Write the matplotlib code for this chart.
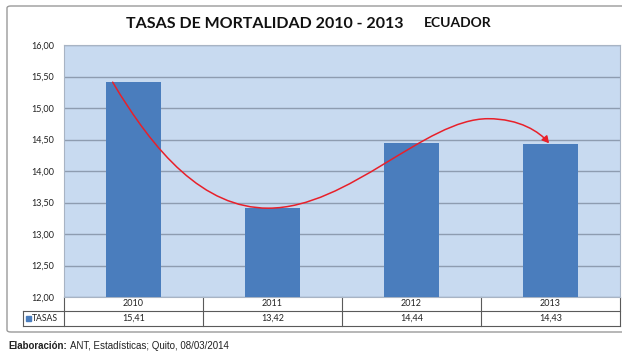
import numpy as np
import matplotlib
matplotlib.use("Agg")
import matplotlib.pyplot as plt
from matplotlib.path import Path
from matplotlib.patches import FancyArrowPatch, FancyBboxPatch, Rectangle
from matplotlib.ticker import FuncFormatter

years = ["2010", "2011", "2012", "2013"]
tasas = [15.41, 13.42, 14.44, 14.43]
series_name = "TASAS"
y_min, y_max, y_step = 12.0, 16.0, 0.5
title = "TASAS DE MORTALIDAD 2010 - 2013"
subtitle = "ECUADOR"
source_bold = "Elaboración:"
source_text = "ANT, Estadísticas; Quito, 08/03/2014"

W, H = 622, 353
BAR = "#4a7dbd"
PLOT_BG = "#c8daf0"
GRID = "#8e9cb0"
EDGE = "#5a5a5a"

def comma(v, _=None):
  return ("%.2f" % v).replace(".", ",")

fig = plt.figure(figsize=(W / 100, H / 100), dpi=100)
fig.patch.set_facecolor("white")

# outer chart frame
frame = FancyBboxPatch((7 / W, 21 / H), 640 / W, 326 / H,
                       boxstyle="round,pad=0,rounding_size=0.006",
                       transform=fig.transFigure, facecolor="none",
                       edgecolor="#9a9a9a", lw=1.0, zorder=-1)
fig.patches.append(frame)

ax = fig.add_axes([64 / W, 1 - 297 / H, 556 / W, 252 / H])
ax.set_facecolor(PLOT_BG)
x = np.arange(len(years))
ax.bar(x, tasas, width=0.4, bottom=0, color=BAR, zorder=3)
ax.set_xlim(-0.5, len(years) - 0.5)
ax.set_ylim(y_min, y_max)
ax.set_yticks(np.arange(y_min, y_max + 0.01, y_step))
ax.yaxis.set_major_formatter(FuncFormatter(comma))
ax.set_xticks([])
ax.tick_params(axis="y", length=0, pad=7, labelsize=6.5, labelcolor="#222222")
for lab in ax.get_yticklabels():
  lab.set_family("Lato")
ax.grid(axis="y", color=GRID, lw=1.0, zorder=1)
for s in ax.spines.values():
  s.set_color("#a8b4c4")
  s.set_linewidth(0.8)

# red trend arrow across the bars
verts = [(-0.15, tasas[0]), (0.15, 14.3), (0.5, 13.41), (0.97, 13.41),
         (1.55, 13.41), (2.1, 14.83), (2.55, 14.83),
         (2.78, 14.83), (2.92, 14.62), (2.99, tasas[3] + 0.01)]
codes = [Path.MOVETO] + [Path.CURVE4] * 9
arrow = FancyArrowPatch(path=Path(verts, codes), arrowstyle="-|>,head_length=4,head_width=2.2",
                        color="#e8202a", lw=1.1, zorder=5)
ax.add_patch(arrow)

# data table under the plot
tr = matplotlib.transforms.blended_transform_factory(ax.transData, ax.transAxes)
r1, r2 = -14 / 252, -29 / 252
lbl_left = -41 / 556
kw = dict(color=EDGE, lw=0.8, clip_on=False)
ax.plot([-0.5, 3.5], [r1, r1], transform=tr, **kw)
ax.plot([lbl_left, 1], [r2, r2], transform=ax.transAxes, **kw)
ax.plot([lbl_left, lbl_left], [r1, r2], transform=ax.transAxes, **kw)
ax.plot([lbl_left, 0], [r1, r1], transform=ax.transAxes, **kw)
for b in np.arange(-0.5, len(years), 1.0):
  ax.plot([b, b], [0, r2], transform=tr, **kw)
for i, (yr, v) in enumerate(zip(years, tasas)):
  ax.text(i, (0 + r1) / 2, yr, transform=tr, ha="center", va="center",
          fontsize=6.5, family="Lato", color="#222222")
  ax.text(i, (r1 + r2) / 2, comma(v), transform=tr, ha="center", va="center",
          fontsize=6.5, family="Lato", color="#222222")
ax.add_patch(Rectangle((lbl_left + 3 / 556, (r1 + r2) / 2 - 2.5 / 252), 5 / 556, 5 / 252,
                       transform=ax.transAxes, color=BAR, clip_on=False))
ax.text(lbl_left + 9 / 556, (r1 + r2) / 2, series_name, transform=ax.transAxes,
        ha="left", va="center", fontsize=6.2, family="Lato", color="#222222")

# titles
fig.text(265 / W, 1 - 24 / H, title, ha="center", va="center",
         fontsize=11.5, fontweight="bold", family="Lato", color="#111111")
fig.text(458 / W, 1 - 23 / H, subtitle, ha="center", va="center",
         fontsize=10, fontweight="bold", family="Lato", color="#111111")

# source line
t = fig.text(8 / W, 1 - 346 / H, source_bold, ha="left", va="center",
             fontsize=7, fontweight="bold", family="Liberation Sans", color="#222222")
fig.canvas.draw()
bb = t.get_window_extent()
fig.text(bb.x1 / W + 3 / W, 1 - 346 / H, source_text, ha="left", va="center",
         fontsize=7, family="Liberation Sans", color="#222222")

fig.savefig("out.png", dpi=100, facecolor="white")
